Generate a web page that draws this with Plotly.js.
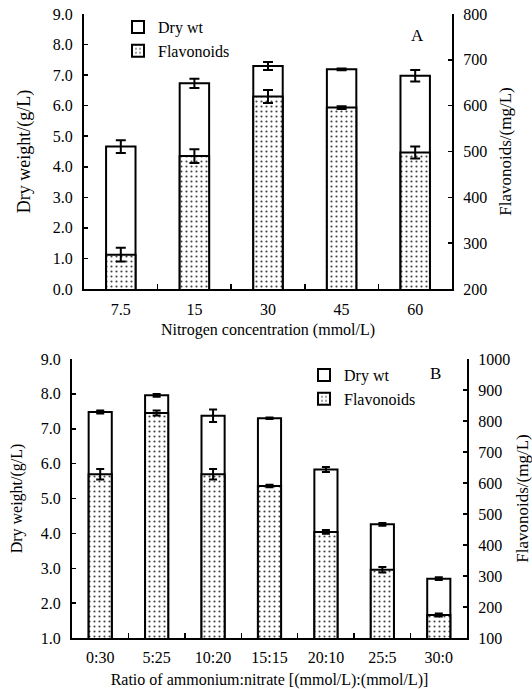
<!DOCTYPE html>
<html>
<head>
<meta charset="utf-8">
<script src="https://cdn.plot.ly/plotly-3.0.1.min.js"></script>
<style>html,body{margin:0;padding:0;background:#fff;}#chart{width:532px;height:689px;}</style>
</head>
<body>
<div id="chart"></div>
<script>
// Panel A: nitrogen concentration
const nitrogenCategories = ['7.5', '15', '30', '45', '60'];
const dryWtA = [4.66, 6.73, 7.30, 7.19, 6.98];
const dryWtErrA = [0.21, 0.15, 0.13, 0.03, 0.19];
const flavonoidsA = [275, 490, 620, 596, 498];
const flavonoidsErrA = [15, 15, 14, 3, 13];

// Panel B: ratio of ammonium:nitrate
const ratioCategories = ['0:30', '5:25', '10:20', '15:15', '20:10', '25:5', '30:0'];
const dryWtB = [7.48, 7.96, 7.37, 7.30, 5.83, 4.26, 2.70];
const dryWtErrB = [0.04, 0.04, 0.18, 0.02, 0.07, 0.04, 0.04];
const flavonoidsB = [628, 826, 628, 590, 442, 320, 174];
const flavonoidsErrB = [17, 8, 17, 4, 6, 9, 5];

const W = 532, H = 689;
const px = v => v / W;
const py = v => 1 - v / H;

const FONT = 'Liberation Serif';
const dots = {shape: '.', size: 5, solidity: 0.15, fgcolor: '#444', bgcolor: '#fff', fillmode: 'replace'};
const outline = {color: '#000', width: 2};
const err = (arr, w) => ({type: 'data', array: arr, visible: true, color: '#000', thickness: 2, width: w});

const traces = [
  {type: 'bar', name: 'Dry wt', x: nitrogenCategories, y: dryWtA, xaxis: 'x', yaxis: 'y',
   width: 0.4, marker: {color: '#fff', line: outline}, error_y: err(dryWtErrA, 5), legend: 'legend'},
  {type: 'bar', name: 'Flavonoids', x: nitrogenCategories, y: flavonoidsA, xaxis: 'x', yaxis: 'y2',
   width: 0.4, marker: {color: '#fff', line: outline, pattern: dots}, error_y: err(flavonoidsErrA, 5), legend: 'legend'},
  {type: 'bar', name: 'Dry wt', x: ratioCategories, y: dryWtB, xaxis: 'x2', yaxis: 'y3',
   width: 0.41, marker: {color: '#fff', line: outline}, error_y: err(dryWtErrB, 4), legend: 'legend2'},
  {type: 'bar', name: 'Flavonoids', x: ratioCategories, y: flavonoidsB, xaxis: 'x2', yaxis: 'y4',
   width: 0.41, marker: {color: '#fff', line: outline, pattern: dots}, error_y: err(flavonoidsErrB, 4), legend: 'legend2'}
];

const lineAx = {showline: true, linecolor: '#000', linewidth: 2, showgrid: false, zeroline: false,
  ticks: 'inside', ticklen: 4, tickwidth: 1.5, tickcolor: '#000', fixedrange: true,
  tickfont: {family: FONT, size: 16, color: '#000'}};

const layout = {
  width: W, height: H,
  margin: {l: 0, r: 0, t: 0, b: 0},
  paper_bgcolor: '#fff', plot_bgcolor: '#fff',
  font: {family: FONT, color: '#000', size: 16},
  barmode: 'overlay',
  showlegend: true,
  xaxis: Object.assign({}, lineAx, {domain: [px(84), px(452)], anchor: 'y', type: 'category',
    range: [-0.5, 4.5], tickson: 'boundaries', ticklen: 5, ticklabelstandoff: 5,
    title: {text: 'Nitrogen concentration (mmol/L)', font: {family: FONT, size: 16}, standoff: 7}}),
  yaxis: Object.assign({}, lineAx, {domain: [py(289), py(14)], anchor: 'x', range: [0, 9], dtick: 1,
    tickformat: '.1f', ticklabelstandoff: 6,
    title: {text: 'Dry weight/(g/L)', font: {family: FONT, size: 18}, standoff: 17}}),
  yaxis2: Object.assign({}, lineAx, {overlaying: 'y', side: 'right', anchor: 'x', range: [200, 800], dtick: 100,
    ticklabelstandoff: 6,
    title: {text: 'Flavonoids/(mg/L)', font: {family: FONT, size: 17}, standoff: 13}}),
  xaxis2: Object.assign({}, lineAx, {domain: [px(72), px(467)], anchor: 'y3', type: 'category',
    range: [-0.5, 6.5], tickson: 'boundaries', ticklen: 5, ticklabelstandoff: 4,
    title: {text: 'Ratio of ammonium:nitrate [(mmol/L):(mmol/L)]', font: {family: FONT, size: 16}, standoff: 9}}),
  yaxis3: Object.assign({}, lineAx, {domain: [py(638), py(359)], anchor: 'x2', range: [1, 9], dtick: 1,
    tickformat: '.1f', ticklabelstandoff: 6,
    title: {text: 'Dry weight/(g/L)', font: {family: FONT, size: 16}, standoff: 14}}),
  yaxis4: Object.assign({}, lineAx, {overlaying: 'y3', side: 'right', anchor: 'x2', range: [100, 1000], dtick: 100,
    ticklabelstandoff: 6,
    title: {text: 'Flavonoids/(mg/L)', font: {family: FONT, size: 17}, standoff: 13}}),
  legend: {x: px(118), y: py(10), xanchor: 'left', yanchor: 'top', bgcolor: 'rgba(0,0,0,0)',
    borderwidth: 0, font: {size: 16, family: FONT}, tracegroupgap: 0},
  legend2: {x: px(304), y: py(358), xanchor: 'left', yanchor: 'top', bgcolor: 'rgba(0,0,0,0)',
    borderwidth: 0, font: {size: 16, family: FONT}, tracegroupgap: 0},
  annotations: [
    {text: 'A', xref: 'paper', yref: 'paper', x: px(426), y: py(24), showarrow: false, font: {family: FONT, size: 17}},
    {text: 'B', xref: 'paper', yref: 'paper', x: px(443), y: py(373), showarrow: false, font: {family: FONT, size: 17}}
  ]
};

Plotly.newPlot('chart', traces, layout, {staticPlot: true, displayModeBar: false});
</script>
</body>
</html>
